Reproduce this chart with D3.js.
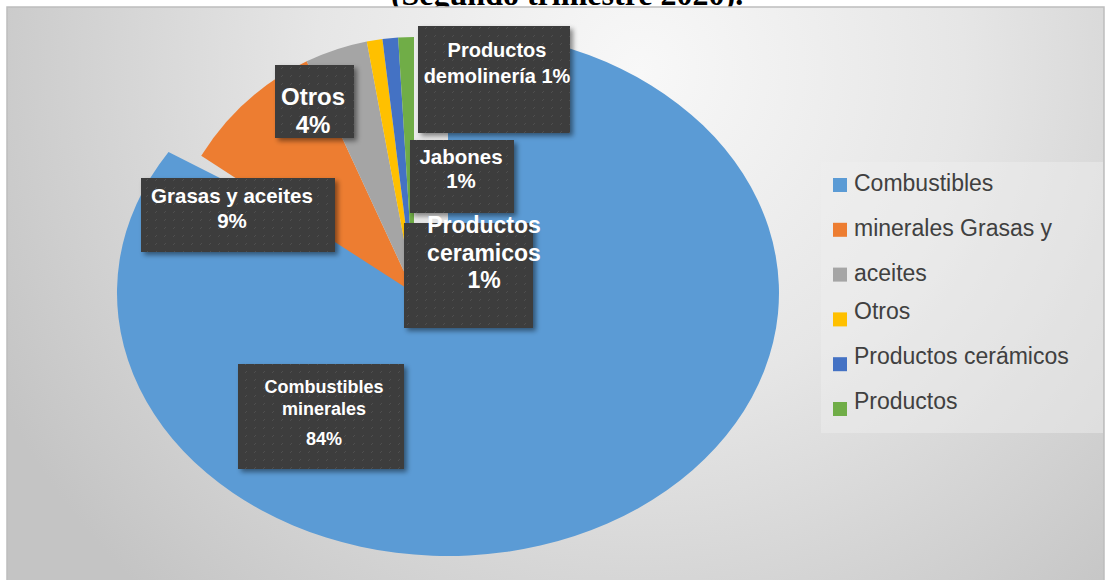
<!DOCTYPE html>
<html>
<head>
<meta charset="utf-8">
<script src="https://cdn.jsdelivr.net/npm/d3@7"></script>
<style>
  body { margin: 0; background: #fff; }
  svg { display: block; }
</style>
</head>
<body>
<svg id="chart" width="1107" height="580"></svg>
<script>
// data
const categories = ["Combustibles minerales", "Grasas y aceites", "Otros", "Jabones", "Productos ceramicos", "Productos demolinería"];
const values = [84, 9, 4, 1, 1, 1];
const legendLabels = ["Combustibles", "minerales Grasas y", "aceites", "Otros", "Productos cerámicos", "Productos"];
const labelLines = [
    ["Combustibles", "minerales", "{p}"],
    ["Grasas y aceites", "{p}"],
    ["Otros", "{p}"],
    ["Jabones", "{p}"],
    ["Productos", "ceramicos", "{p}"],
    ["Productos", "demolinería {p}"]
];
const colors = ["#5B9BD5", "#ED7D31", "#A5A5A5", "#FFC000", "#4472C4", "#70AD47"];
const title = "(Segundo trimestre 2020).";

// layout
const W = 1107, H = 580;
const mainPie = {cx: 448, cy: 293, rx: 331, ry: 263};     // big slice
const explodedPie = {cx: 414, cy: 293, rx: 252, ry: 256}; // the small ones pulled out
const boxes = [
    {x: 238, y: 364, w: 166, h: 105, tx: 324, size: 18, base: [393, 415, 445]},
    {x: 141, y: 178, w: 194, h: 74, tx: 232, size: 20.5, base: [203, 228]},
    {x: 275, y: 65, w: 79, h: 73, tx: 313, size: 24, base: [105, 133]},
    {x: 410, y: 140, w: 104, h: 73, tx: 461, size: 20.5, base: [164, 188]},
    {x: 404, y: 223, w: 129, h: 105, tx: 484, size: 23, base: [233, 261, 288]},
    {x: 418, y: 26, w: 152, h: 107, tx: 497, size: 20, base: [57, 83]}
];

var svg = d3.select("#chart");
var defs = svg.append("defs");

var grad = defs.append("radialGradient")
    .attr("id", "bg")
    .attr("gradientUnits", "userSpaceOnUse")
    .attr("cx", 640).attr("cy", 70).attr("r", 720);
grad.append("stop").attr("offset", "0%").attr("stop-color", "#f8f8f8");
grad.append("stop").attr("offset", "45%").attr("stop-color", "#e6e6e6");
grad.append("stop").attr("offset", "100%").attr("stop-color", "#c4c4c4");

var pat = defs.append("pattern")
    .attr("id", "tex")
    .attr("patternUnits", "userSpaceOnUse")
    .attr("width", 9).attr("height", 8);
pat.append("rect").attr("width", 9).attr("height", 8).attr("fill", "#3e3e3e");
pat.append("line")
    .attr("x1", 2).attr("y1", 5).attr("x2", 4).attr("y2", 3)
    .attr("stroke", "#505050").attr("stroke-width", 1);

var shadow = defs.append("filter")
    .attr("id", "shadow")
    .attr("x", "-20%").attr("y", "-20%").attr("width", "140%").attr("height", "140%");
shadow.append("feDropShadow")
    .attr("dx", 3).attr("dy", 3).attr("stdDeviation", 2.5)
    .attr("flood-color", "#000").attr("flood-opacity", 0.45);

// title, cut at the top like the screenshot
svg.append("text")
    .attr("x", 567).attr("y", 5)
    .attr("text-anchor", "middle")
    .style("font-family", "'Liberation Serif', 'Times New Roman', serif")
    .style("font-weight", "bold")
    .style("font-size", "32px")
    .text(title);

// chart area
svg.append("rect")
    .attr("x", 7).attr("y", 7)
    .attr("width", W - 10).attr("height", H)
    .attr("fill", "url(#bg)")
    .attr("stroke", "#bdbdbd")
    .attr("stroke-width", 1.5);

// pie
var pie = d3.pie().sort(null).value(d => d);
var arc = d3.arc().innerRadius(0).outerRadius(100);
var arcs = pie(values);

var g = svg.append("g");
arcs.forEach(function(a, i) {
    var c = i === 0 ? mainPie : explodedPie;
    g.append("path")
        .attr("d", arc(a))
        .attr("transform", `translate(${c.cx},${c.cy}) scale(${c.rx / 100},${c.ry / 100})`)
        .attr("fill", colors[i]);
});

// data labels
var total = d3.sum(values);
var fmt = d3.format(".0%");
var lg = svg.append("g");
boxes.forEach(function(b, i) {
    lg.append("rect")
        .attr("x", b.x).attr("y", b.y)
        .attr("width", b.w).attr("height", b.h)
        .attr("fill", "url(#tex)")
        .attr("filter", "url(#shadow)");
    labelLines[i].forEach(function(line, j) {
        lg.append("text")
            .attr("x", b.tx).attr("y", b.base[j])
            .attr("text-anchor", "middle")
            .attr("fill", "#fff")
            .style("font-family", "'Liberation Sans', Arial, sans-serif")
            .style("font-weight", "bold")
            .style("font-size", b.size + "px")
            .text(line.replace("{p}", fmt(values[i] / total)));
    });
});

// legend
var leg = svg.append("g");
leg.append("rect")
    .attr("x", 821).attr("y", 162)
    .attr("width", 282).attr("height", 271)
    .attr("fill", "#f0f0f0").attr("fill-opacity", 0.45);

legendLabels.forEach(function(name, i) {
    var y = 178 + i * 44.8;
    leg.append("rect")
        .attr("x", 833).attr("y", y)
        .attr("width", 14).attr("height", 14)
        .attr("fill", colors[i]);
    leg.append("text")
        .attr("x", 854).attr("y", y + 14 - (i < 3 ? 1 : 7))
        .attr("fill", "#404040")
        .style("font-family", "'Liberation Sans', Arial, sans-serif")
        .style("font-size", "23px")
        .text(name);
});
</script>
</body>
</html>
